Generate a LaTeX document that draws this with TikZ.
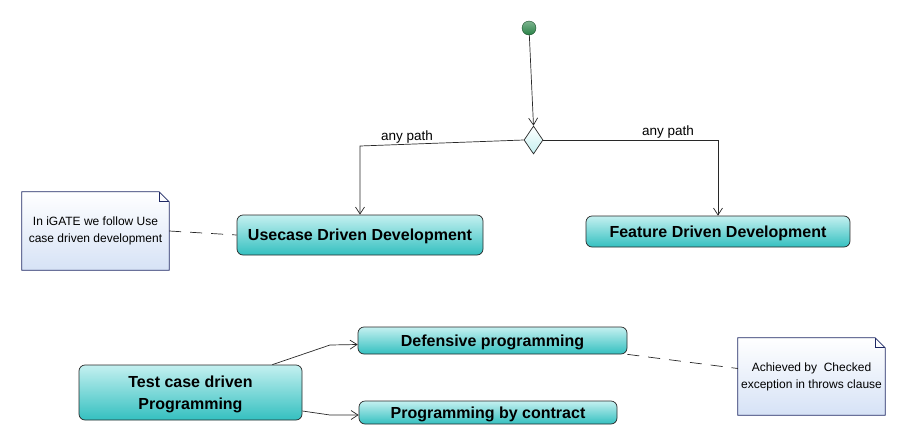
\documentclass[tikz,border=0pt]{standalone}
\usepackage{fontspec}
\setmainfont{Liberation Sans}
\usetikzlibrary{shapes.geometric,arrows.meta}
\definecolor{boxtop}{RGB}{196,240,240}
\definecolor{boxbottom}{RGB}{52,192,192}
\definecolor{notetop}{RGB}{255,255,255}
\definecolor{notebottom}{RGB}{214,226,246}
\definecolor{noteline}{RGB}{30,40,100}
\definecolor{startgreen}{RGB}{40,130,70}
\definecolor{edgegray}{RGB}{40,40,40}

\begin{document}
\begin{tikzpicture}[x=1pt, y=-1pt,
    actbox/.style={draw=edgegray, line width=0.7pt, rounded corners=6pt, top color=boxtop, bottom color=boxbottom, font=\fontsize{16}{22}\selectfont\bfseries, align=center, inner sep=0pt, text depth=0pt},
    notebox/.style={minimum width=147pt, inner sep=0pt, font=\fontsize{12}{17}\selectfont, align=center},
    flow/.style={draw=edgegray, line width=0.7pt, -{Straight Barb[length=7pt,width=9pt]}},
    notelink/.style={draw=edgegray, line width=0.7pt, dash pattern=on 12pt off 9pt},
    lbl/.style={font=\fontsize{13.5}{16}\selectfont, inner sep=0pt}]
    \useasboundingbox (0,0) rectangle (906,445);

    % Inicio y decision
    \node[circle, draw=startgreen!60!black, top color=startgreen!60, bottom color=startgreen, minimum size=14pt, inner sep=0pt] (start) at (529,28) {};
    \node[diamond, draw=edgegray, line width=0.7pt, top color=white, bottom color=boxtop, minimum width=19pt, minimum height=28pt, inner sep=0pt] (choice) at (533.5,140) {};

    % Actividades
    \node[actbox, minimum width=246pt, minimum height=40pt] (usecase) at (360,235) {Usecase Driven Development};
    \node[actbox, minimum width=264pt, minimum height=31pt] (feature) at (718,231.5) {Feature Driven Development};
    \node[actbox, minimum width=223pt, minimum height=55pt] (testcase) at (190.5,392.5) {Test case driven\\Programming};
    \node[actbox, minimum width=269pt, minimum height=27pt] (defensive) at (492.5,340.5) {Defensive programming};
    \node[actbox, minimum width=258pt, minimum height=23pt] (contract) at (488,412.5) {Programming by contract};

    % Notas
    \node[notebox, minimum height=78pt] (noteuse) at (95.5,231) {};
    \node[notebox, minimum height=77pt] (notedef) at (811.5,376.5) {};
    \foreach \n in {noteuse, notedef} {
        \shade[draw=noteline, line width=0.7pt, top color=notetop, bottom color=notebottom]
            (\n.north west) -- ([xshift=-10pt]\n.north east) -- ([yshift=-10pt]\n.north east)
            -- (\n.south east) -- (\n.south west) -- cycle;
        \draw[noteline, line width=0.7pt] ([xshift=-10pt]\n.north east) -- ([xshift=-10pt, yshift=-10pt]\n.north east) -- ([yshift=-10pt]\n.north east);
    }
    \node[notebox] (usetext) at (noteuse) {In iGATE we follow Use\\case driven development};
    \node[notebox] (deftext) at (notedef) {Achieved by\ \ Checked\\exception in throws clause};

    % Conexiones
    \draw[flow] (start) -- (choice.north);
    \draw[flow] (choice.west) -- (usecase.north |- 0,146) -- (usecase.north);
    \draw[flow] (choice.east) -| (feature.north);
    \node[lbl] (pathleft) at (407,137) {any path};
    \node[lbl] (pathright) at (668,132) {any path};
    \draw[flow] ([xshift=-30pt]testcase.north east) -- (330,345) -- ([yshift=-4pt]defensive.west);
    \draw[flow] ([yshift=-18.5pt]testcase.east) -- (330,415) -- ([yshift=-2.5pt]contract.west);
    \draw[notelink] (noteuse.east) -- (usecase.west);
    \draw[notelink] (defensive.south east) -- ([yshift=8pt]notedef.west);
\end{tikzpicture}
\end{document}
